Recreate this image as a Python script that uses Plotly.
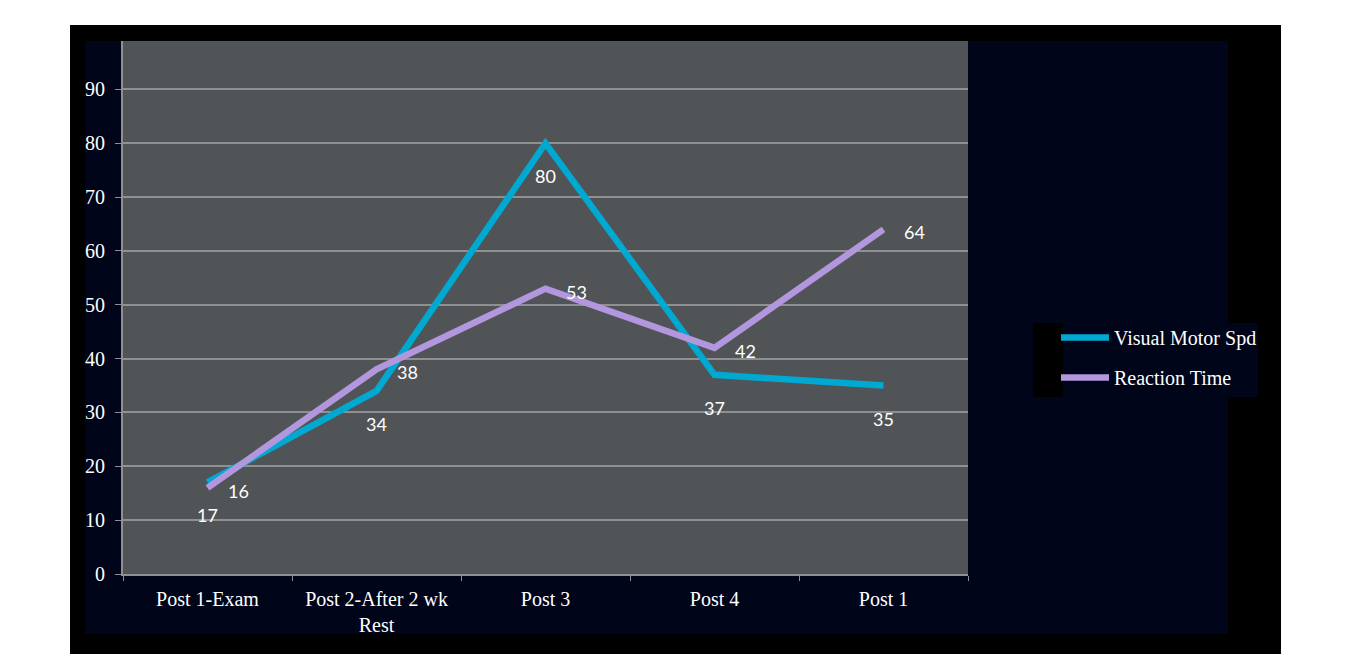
import plotly.graph_objects as go

categories = ["Post 1-Exam", "Post 2-After 2 wk<br>Rest", "Post 3", "Post 4", "Post 1"]
visual_motor = [17, 34, 80, 37, 35]
reaction_time = [16, 38, 53, 42, 64]
y_ticks = [0, 10, 20, 30, 40, 50, 60, 70, 80, 90]

OFF = 8  # page body margin
W, H = 1351 - OFF, 654 - OFF
L, R, T, B = 123 - OFF, 968 - OFF, 41 - OFF, 574 - OFF

def px(x):
    return (x - OFF - L) / (R - L)

def py(y):
    return (B - (y - OFF)) / (B - T)

CYAN = "#00A9D2"
PURPLE = "#B297DE"
NAVY = "#00051A"
PLOTBG = "#515456"
GRID = "#8E9091"
SERIF = "Liberation Serif"
SANS = "Lato"

fig = go.Figure()
fig.add_trace(go.Scatter(x=categories, y=visual_motor, mode="lines", name="Visual Motor Spd",
                         legendgroup="a", line=dict(color=CYAN, width=6.5)))
fig.add_trace(go.Scatter(x=categories, y=reaction_time, mode="lines", name="Reaction Time",
                         legendgroup="b", line=dict(color=PURPLE, width=6.5)))

annotations = []
for c, v in zip(categories, visual_motor):
    annotations.append(dict(x=c, y=v, xref="x", yref="y", text=str(v), showarrow=False,
                            yshift=-33, font=dict(family=SANS, size=18, color="white")))
for c, v in zip(categories, reaction_time):
    annotations.append(dict(x=c, y=v, xref="x", yref="y", text=str(v), showarrow=False,
                            xshift=31, yshift=-3, font=dict(family=SANS, size=18, color="white")))

shapes = [
    dict(type="rect", xref="paper", yref="paper", x0=px(70), x1=px(1281), y0=py(654), y1=py(25),
         fillcolor="black", line=dict(width=0), layer="below"),
    dict(type="rect", xref="paper", yref="paper", x0=px(85), x1=px(1228), y0=py(634), y1=py(41),
         fillcolor=NAVY, line=dict(width=0), layer="below"),
    dict(type="rect", xref="paper", yref="paper", x0=px(1033), x1=px(1063), y0=py(397), y1=py(323),
         fillcolor="black", line=dict(width=0), layer="below"),
    dict(type="rect", xref="paper", yref="paper", x0=px(1063), x1=px(1258), y0=py(397), y1=py(323),
         fillcolor=NAVY, line=dict(width=0), layer="below"),
    dict(type="rect", xref="paper", yref="paper", x0=0, x1=1, y0=0, y1=1,
         fillcolor=PLOTBG, line=dict(width=0), layer="below"),
]

fig.update_layout(
    width=W, height=H,
    margin=dict(l=L, r=W - R, t=T, b=H - B),
    paper_bgcolor="white",
    plot_bgcolor=PLOTBG,
    showlegend=True,
    legend=dict(x=px(1056), y=py(318), xanchor="left", yanchor="top",
                bgcolor="rgba(0,0,0,0)", font=dict(family=SERIF, size=20, color="white"),
                tracegroupgap=11, itemwidth=48),
    shapes=shapes,
    annotations=annotations,
    xaxis=dict(type="category", tickson="boundaries", range=[-0.5, 4.5],
               showgrid=False, zeroline=False,
               showline=True, linecolor=GRID, linewidth=2,
               ticks="outside", ticklen=5, tickcolor=GRID, tickwidth=1,
               ticklabelstandoff=6,
               tickfont=dict(family=SERIF, size=20, color="white")),
    yaxis=dict(range=[0, 99], tickmode="array", tickvals=y_ticks,
               showgrid=True, gridcolor=GRID, gridwidth=1.5, zeroline=False,
               showline=True, linecolor=GRID, linewidth=2,
               ticks="outside", ticklen=6, tickcolor=GRID,
               ticklabelstandoff=6,
               tickfont=dict(family=SERIF, size=20, color="white")),
)

fig.write_html("out.html")
